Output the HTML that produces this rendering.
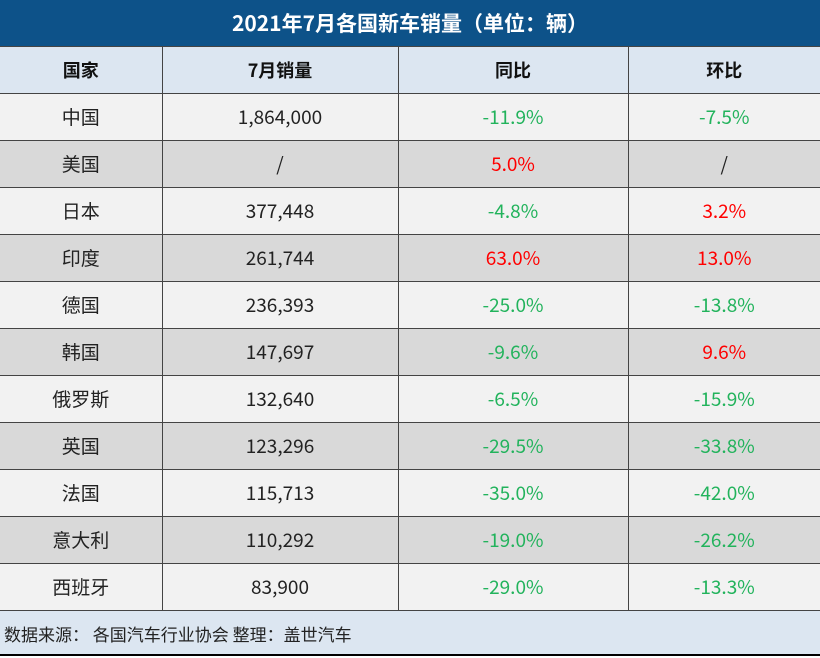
<!DOCTYPE html>
<html><head><meta charset="utf-8"><style>
body{margin:0;width:820px;height:658px;overflow:hidden;background:#fff;font-family:"Noto Sans CJK SC","Liberation Sans",sans-serif}
.t{position:absolute;left:0;top:0;width:820px;height:46px;background:#0d5289;color:#fff;font-weight:bold;font-size:21px;line-height:46px;text-align:center}
table{position:absolute;left:0;top:46px;border-collapse:collapse;width:820px;table-layout:fixed}
td{border:1px solid #444;height:46px;padding:0;text-align:center;vertical-align:middle;font-size:19px;line-height:20px;color:#222}
tr.h td{background:#dce6f1;font-weight:bold;font-size:18px;color:#111}
tr.a td{background:#f2f2f2}
tr.b td{background:#d9d9d9}
td:first-child{border-left:none}td:last-child{border-right:none}
.g{color:#22b35c}.r{color:#f00}
.f{position:absolute;left:0;top:610px;width:820px;height:46px;background:#dce6f1;font-size:17px;line-height:46px;padding-left:4px;box-sizing:border-box;color:#222;border-top:1px solid #444;border-bottom:2px solid #000}
</style></head><body>
<div class="t">2021年7月各国新车销量（单位：辆）</div>
<table>
<colgroup><col style="width:162px"><col style="width:236px"><col style="width:230px"><col style="width:192px"></colgroup>
<tr class="h"><td>国家</td><td>7月销量</td><td>同比</td><td>环比</td></tr>
<tr class="a"><td>中国</td><td>1,864,000</td><td class="g">-11.9%</td><td class="g">-7.5%</td></tr>
<tr class="b"><td>美国</td><td>/</td><td class="r">5.0%</td><td>/</td></tr>
<tr class="a"><td>日本</td><td>377,448</td><td class="g">-4.8%</td><td class="r">3.2%</td></tr>
<tr class="b"><td>印度</td><td>261,744</td><td class="r">63.0%</td><td class="r">13.0%</td></tr>
<tr class="a"><td>德国</td><td>236,393</td><td class="g">-25.0%</td><td class="g">-13.8%</td></tr>
<tr class="b"><td>韩国</td><td>147,697</td><td class="g">-9.6%</td><td class="r">9.6%</td></tr>
<tr class="a"><td>俄罗斯</td><td>132,640</td><td class="g">-6.5%</td><td class="g">-15.9%</td></tr>
<tr class="b"><td>英国</td><td>123,296</td><td class="g">-29.5%</td><td class="g">-33.8%</td></tr>
<tr class="a"><td>法国</td><td>115,713</td><td class="g">-35.0%</td><td class="g">-42.0%</td></tr>
<tr class="b"><td>意大利</td><td>110,292</td><td class="g">-19.0%</td><td class="g">-26.2%</td></tr>
<tr class="a"><td>西班牙</td><td>83,900</td><td class="g">-29.0%</td><td class="g">-13.3%</td></tr>
</table>
<div class="f">数据来源： 各国汽车行业协会 整理：盖世汽车</div>
</body></html>
